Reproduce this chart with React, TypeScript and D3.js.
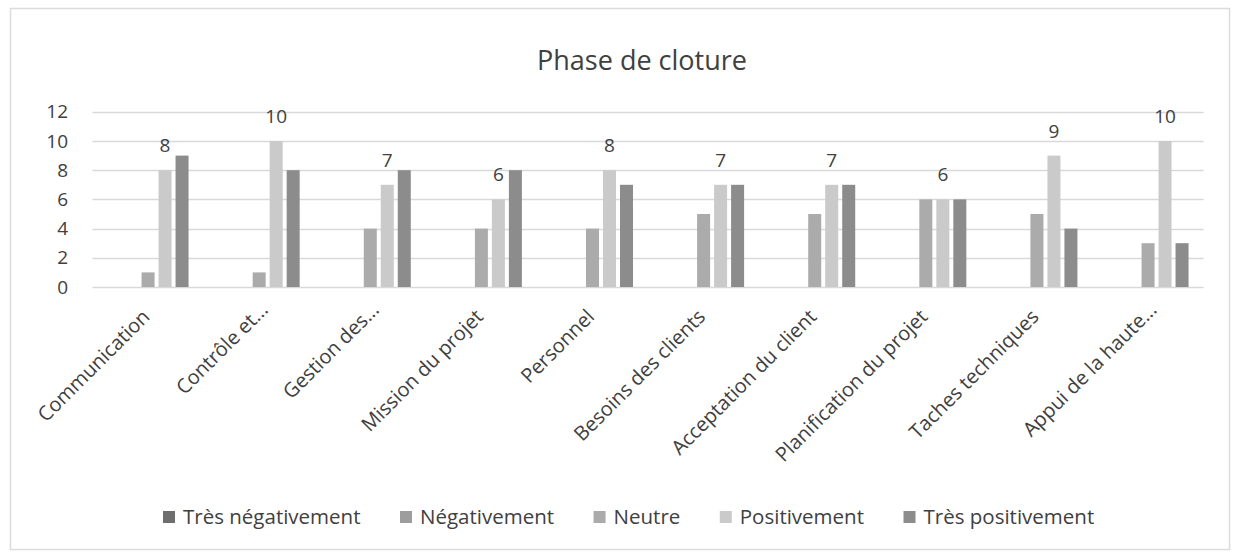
import React, { useEffect, useRef } from "react";
import * as d3 from "d3";

const title = "Phase de cloture";
const categories = [
  "Communication",
  "Contrôle et...",
  "Gestion des...",
  "Mission du projet",
  "Personnel",
  "Besoins des clients",
  "Acceptation du client",
  "Planification du projet",
  "Taches techniques",
  "Appui de la haute...",
];
const seriesNames = ["Très négativement", "Négativement", "Neutre", "Positivement", "Très positivement"];
const tresNegativement = [0, 0, 0, 0, 0, 0, 0, 0, 0, 0];
const negativement = [0, 0, 0, 0, 0, 0, 0, 0, 0, 0];
const neutre = [1, 1, 4, 4, 4, 5, 5, 6, 5, 3];
const positivement = [8, 10, 7, 6, 8, 7, 7, 6, 9, 10];
const tresPositivement = [9, 8, 8, 8, 7, 7, 7, 6, 4, 3];
const yTicks = [0, 2, 4, 6, 8, 10, 12];
const seriesColors = ["#6e6e6e", "#9d9d9d", "#ababab", "#cacaca", "#8c8c8c"];

const W = 1233;
const H = 552;
const FONT = "'Open Sans', 'Noto Sans', sans-serif";

export default function App() {
  const ref = useRef<SVGSVGElement>(null);

  useEffect(() => {
    const svg = d3.select(ref.current);
    svg.selectAll("*").remove();
    const values = [tresNegativement, negativement, neutre, positivement, tresPositivement];

    const left = 92.5, right = 1203.6, top = 111.8, bottom = 287;
    const x0 = d3.scaleBand<string>().domain(categories).range([left, right]).paddingInner(0).paddingOuter(0);
    const bw = x0.bandwidth();
    const groupW = 85;
    const x1 = d3
      .scaleBand<string>()
      .domain(seriesNames)
      .range([(bw - groupW) / 2, (bw + groupW) / 2])
      .paddingInner(4 / 17)
      .paddingOuter(2 / 17);
    const y = d3.scaleLinear().domain([0, 12]).range([bottom, top]);

    svg.append("rect").attr("width", W).attr("height", H).attr("fill", "#ffffff");
    svg
      .append("rect")
      .attr("x", 10.5)
      .attr("y", 8.5)
      .attr("width", 1219)
      .attr("height", 541)
      .attr("fill", "none")
      .attr("stroke", "#dcdcdc")
      .attr("stroke-width", 1.5);

    // title
    svg
      .append("text")
      .attr("x", 642)
      .attr("y", 70)
      .attr("text-anchor", "middle")
      .attr("font-family", FONT)
      .attr("font-size", 27)
      .attr("fill", "#404040")
      .text(title);

    // gridlines
    const g = svg.append("g");
    g.selectAll("line.grid")
      .data(yTicks)
      .join("line")
      .attr("x1", left)
      .attr("x2", right)
      .attr("y1", (d) => Math.round(y(d)) + 0.5)
      .attr("y2", (d) => Math.round(y(d)) + 0.5)
      .attr("stroke", "#d9d9d9")
      .attr("stroke-width", 1.5);

    g.selectAll("text.ytick")
      .data(yTicks)
      .join("text")
      .attr("x", 68)
      .attr("y", (d) => y(d))
      .attr("dy", "0.35em")
      .attr("text-anchor", "end")
      .attr("font-family", FONT)
      .attr("font-size", 19)
      .attr("fill", "#404040")
      .text((d) => String(d));

    // bars
    seriesNames.forEach((s, si) => {
      const data = categories.map((c, ci) => ({ c, v: values[si][ci] }));
      svg
        .append("g")
        .selectAll("rect")
        .data(data.filter((d) => d.v > 0))
        .join("rect")
        .attr("x", (d) => (x0(d.c) as number) + (x1(s) as number))
        .attr("width", x1.bandwidth())
        .attr("y", (d) => y(d.v))
        .attr("height", (d) => y(0) - y(d.v))
        .attr("fill", seriesColors[si]);
    });

    // data labels on Positivement
    const pi = 3;
    svg
      .append("g")
      .selectAll("text")
      .data(categories.map((c, ci) => ({ c, v: positivement[ci] })))
      .join("text")
      .attr("x", (d) => (x0(d.c) as number) + (x1(seriesNames[pi]) as number) + x1.bandwidth() / 2)
      .attr("y", (d) => y(d.v) - 18)
      .attr("text-anchor", "middle")
      .attr("font-family", FONT)
      .attr("font-size", 19)
      .attr("fill", "#404040")
      .text((d) => String(d.v));

    // category labels (truncated labels sit a little further along the axis)
    svg
      .append("g")
      .selectAll("text")
      .data(categories)
      .join("text")
      .attr("transform", (d) => {
        const trunc = d.endsWith("...");
        const cx = (x0(d) as number) + bw / 2 + (trunc ? 10 : 3);
        const cy = trunc ? 311 : 318;
        return `translate(${cx},${cy}) rotate(-45)`;
      })
      .attr("text-anchor", "end")
      .attr("font-family", FONT)
      .attr("font-size", 20)
      .attr("fill", "#404040")
      .text((d) => d);

    // legend
    const lg = svg.append("g");
    let lx = 163;
    seriesNames.forEach((s, si) => {
      lg.append("rect").attr("x", lx).attr("y", 511).attr("width", 12).attr("height", 12).attr("fill", seriesColors[si]);
      const t = lg
        .append("text")
        .attr("x", lx + 20)
        .attr("y", 524)
        .attr("font-family", FONT)
        .attr("font-size", 20.5)
        .attr("fill", "#404040")
        .text(s);
      const w = (t.node() as SVGTextElement).getComputedTextLength();
      lx += 20 + w + 39.5;
    });
  }, []);

  return (
    <svg
      ref={ref}
      width={W}
      height={H}
      style={{ position: "absolute", left: 0, top: 0, display: "block" }}
    />
  );
}
